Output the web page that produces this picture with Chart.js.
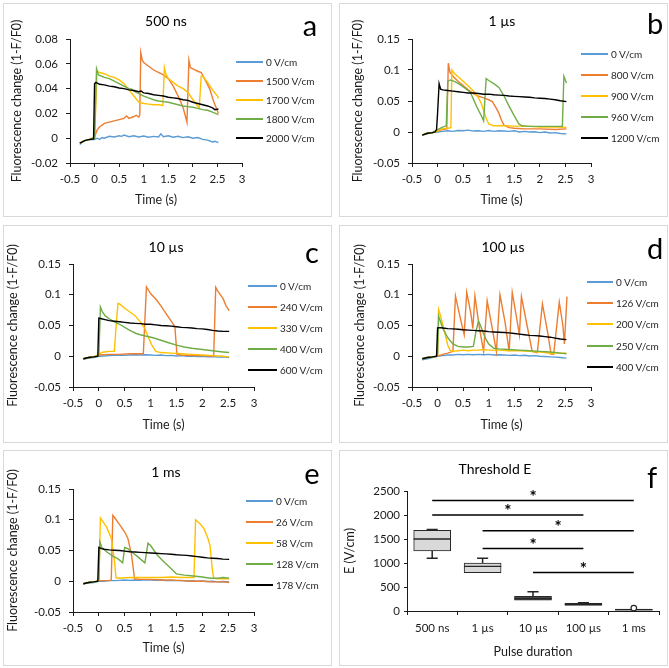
<!DOCTYPE html>
<html>
<head>
<meta charset="utf-8">
<script src="https://cdn.jsdelivr.net/npm/chart.js@4.4.1/dist/chart.umd.min.js"></script>
<style>
  body { margin: 0; background: #fff; font-family: Lato, sans-serif; }
  #fig { position: relative; width: 669px; height: 668px; overflow: hidden; }
  .panel { position: absolute; }
  .panel canvas { position: absolute; left: 0; top: 0; }
  .frame { position: absolute; left: 0; top: 0; right: 0; bottom: 0; border: 1px solid #d9d9d9; box-sizing: border-box; pointer-events: none; }
  .ttl { position: absolute; font-size: 14px; transform: translate(-50%, -50%); white-space: nowrap; color: #000; line-height: 1; }
  .let { position: absolute; font-size: 29px; transform: translate(-50%, -50%); color: #000; line-height: 1; }
  .lg-line { position: absolute; height: 2px; }
  .lg-txt { position: absolute; font-size: 10px; line-height: 1; transform: translateY(-50%); white-space: nowrap; color: #262626; }
</style>
</head>
<body>
<div id="fig"></div>
<script>
const COLORS = ['#5b9bd5', '#ed7d31', '#ffc000', '#70ad47', '#000000'];
const YTITLE = 'Fluorescence change (1-F/F0)';

// ---- a: 500 ns ----
const aLabels = ['0 V/cm', '1500 V/cm', '1700 V/cm', '1800 V/cm', '2000 V/cm'];
const a0 = [[-0.3,-0.005],[-0.25,-0.003],[-0.2,-0.002],[-0.1,-0.001],[-0.05,-0.001],[0,-0.001],[0.05,0.0],[0.1,-0.001],[0.15,0.0005],[0.2,0.0],[0.3,0.0015],[0.4,0.001],[0.5,0.002],[0.55,0.0015],[0.6,0.0025],[0.7,0.0012],[0.8,0.002],[0.9,0.001],[1.0,0.0018],[1.1,0.0008],[1.2,0.0015],[1.3,0.001],[1.35,0.0035],[1.4,0.0012],[1.5,0.002],[1.6,0.0008],[1.7,0.0015],[1.8,0.0005],[1.9,0.0012],[2.0,0.0],[2.1,0.0005],[2.2,-0.001],[2.3,-0.0015],[2.4,-0.003],[2.45,-0.0025],[2.52,-0.0035]];
const a1500 = [[-0.3,-0.004],[-0.2,-0.002],[-0.1,-0.001],[0.0,0.001],[0.05,0.0065],[0.1,0.009],[0.2,0.012],[0.3,0.013],[0.4,0.014],[0.5,0.015],[0.6,0.016],[0.65,0.018],[0.7,0.016],[0.8,0.0175],[0.85,0.0185],[0.9,0.017],[0.92,0.019],[0.94,0.069],[0.97,0.063],[1.0,0.061],[1.1,0.058],[1.2,0.055],[1.3,0.053],[1.4,0.051],[1.5,0.048],[1.6,0.042],[1.7,0.034],[1.8,0.025],[1.88,0.013],[1.92,0.063],[1.95,0.057],[2.0,0.056],[2.1,0.054],[2.17,0.053],[2.25,0.047],[2.34,0.040],[2.42,0.030],[2.52,0.020]];
const a1700 = [[-0.3,-0.004],[-0.2,-0.002],[-0.1,-0.001],[0.0,0.0],[0.05,0.054],[0.1,0.053],[0.2,0.052],[0.3,0.050],[0.4,0.049],[0.5,0.047],[0.6,0.044],[0.7,0.039],[0.8,0.034],[0.9,0.029],[1.0,0.028],[1.1,0.0275],[1.2,0.027],[1.3,0.027],[1.39,0.0265],[1.42,0.057],[1.45,0.052],[1.5,0.048],[1.6,0.045],[1.7,0.042],[1.8,0.040],[1.9,0.037],[2.0,0.031],[2.08,0.027],[2.13,0.0245],[2.17,0.050],[2.2,0.050],[2.3,0.045],[2.4,0.039],[2.5,0.034],[2.52,0.032]];
const a1800 = [[-0.3,-0.004],[-0.2,-0.002],[-0.1,-0.001],[0.0,0.0],[0.04,0.056],[0.08,0.051],[0.2,0.049],[0.3,0.048],[0.4,0.046],[0.5,0.044],[0.6,0.042],[0.7,0.040],[0.75,0.0395],[0.8,0.038],[0.9,0.036],[1.0,0.034],[1.1,0.0325],[1.2,0.031],[1.3,0.030],[1.4,0.0295],[1.5,0.029],[1.6,0.028],[1.7,0.027],[1.8,0.026],[1.9,0.0255],[2.0,0.025],[2.1,0.024],[2.2,0.023],[2.3,0.0225],[2.4,0.021],[2.52,0.019]];
const a2000 = [[-0.3,-0.004],[-0.2,-0.002],[-0.1,-0.001],[-0.02,-0.0005],[0.0,0.044],[0.03,0.045],[0.1,0.0435],[0.2,0.043],[0.3,0.042],[0.4,0.0415],[0.5,0.0405],[0.6,0.040],[0.7,0.039],[0.8,0.0385],[0.9,0.0375],[0.95,0.038],[1.0,0.0365],[1.1,0.036],[1.2,0.035],[1.3,0.0345],[1.4,0.034],[1.5,0.033],[1.6,0.0325],[1.7,0.032],[1.8,0.031],[1.9,0.0305],[2.0,0.029],[2.1,0.028],[2.2,0.027],[2.3,0.026],[2.4,0.0245],[2.45,0.023],[2.52,0.0235]];

// ---- b: 1 µs ----
const bLabels = ['0 V/cm', '800 V/cm', '900 V/cm', '960 V/cm', '1200 V/cm'];
const b0 = [[-0.3,-0.005],[-0.2,-0.003],[-0.1,-0.001],[0,0.0],[0.1,0.001],[0.2,0.002],[0.3,0.001],[0.4,0.0025],[0.5,0.002],[0.6,0.003],[0.7,0.0015],[0.8,0.002],[0.9,0.001],[1.0,0.0025],[1.1,0.001],[1.2,0.002],[1.3,0.0015],[1.4,0.001],[1.5,0.002],[1.6,0.0],[1.7,0.001],[1.8,0.0],[1.9,0.0005],[2.0,-0.001],[2.1,0.0],[2.2,-0.0015],[2.3,-0.001],[2.4,-0.0025],[2.52,-0.003]];
const b800 = [[-0.3,-0.005],[-0.2,-0.002],[-0.1,-0.001],[0.0,0.001],[0.05,0.003],[0.1,0.004],[0.18,0.005],[0.21,0.111],[0.24,0.097],[0.3,0.09],[0.4,0.082],[0.5,0.075],[0.6,0.068],[0.7,0.062],[0.8,0.058],[0.9,0.055],[1.0,0.052],[1.07,0.049],[1.15,0.038],[1.2,0.030],[1.25,0.019],[1.3,0.011],[1.4,0.007],[1.5,0.006],[1.7,0.005],[2.0,0.005],[2.3,0.004],[2.52,0.005]];
const b900 = [[-0.3,-0.005],[-0.2,-0.002],[-0.1,-0.001],[0.0,0.002],[0.1,0.005],[0.2,0.006],[0.26,0.007],[0.28,0.100],[0.32,0.095],[0.4,0.089],[0.5,0.082],[0.6,0.074],[0.7,0.066],[0.8,0.055],[0.85,0.047],[0.9,0.035],[0.95,0.022],[1.0,0.013],[1.1,0.010],[1.3,0.010],[1.5,0.0095],[1.8,0.009],[2.0,0.008],[2.3,0.008],[2.52,0.0075]];
const b960 = [[-0.3,-0.005],[-0.2,-0.002],[-0.1,-0.001],[0.0,0.004],[0.1,0.008],[0.17,0.010],[0.2,0.082],[0.25,0.084],[0.35,0.081],[0.45,0.076],[0.55,0.070],[0.64,0.064],[0.7,0.053],[0.77,0.040],[0.85,0.027],[0.9,0.018],[0.95,0.086],[1.0,0.083],[1.1,0.078],[1.2,0.072],[1.3,0.058],[1.39,0.043],[1.5,0.026],[1.59,0.013],[1.65,0.010],[1.8,0.009],[2.0,0.009],[2.2,0.009],[2.44,0.009],[2.47,0.090],[2.52,0.079]];
const b1200 = [[-0.3,-0.005],[-0.2,-0.002],[-0.1,-0.001],[-0.05,0.0],[-0.02,0.004],[0.0,0.030],[0.03,0.078],[0.06,0.069],[0.1,0.068],[0.2,0.067],[0.3,0.066],[0.4,0.065],[0.5,0.064],[0.6,0.063],[0.7,0.063],[0.8,0.062],[0.9,0.061],[1.0,0.061],[1.1,0.060],[1.2,0.0595],[1.3,0.059],[1.4,0.058],[1.5,0.0575],[1.6,0.057],[1.7,0.0565],[1.8,0.056],[1.9,0.055],[2.0,0.0545],[2.1,0.054],[2.2,0.053],[2.3,0.052],[2.4,0.0505],[2.52,0.049]];

// ---- c: 10 µs ----
const cLabels = ['0 V/cm', '240 V/cm', '330 V/cm', '400 V/cm', '600 V/cm'];
const c0 = [[-0.3,-0.005],[-0.2,-0.003],[-0.1,-0.002],[0,0.0],[0.1,0.0005],[0.2,0.001],[0.3,0.0015],[0.4,0.002],[0.5,0.0015],[0.6,0.002],[0.7,0.0025],[0.8,0.002],[0.9,0.0025],[1.0,0.002],[1.1,0.0015],[1.2,0.002],[1.3,0.001],[1.4,0.0015],[1.5,0.0005],[1.6,0.001],[1.7,0.0],[1.8,0.0005],[1.9,-0.0005],[2.0,0.0],[2.1,-0.001],[2.2,-0.0005],[2.3,-0.0015],[2.4,-0.001],[2.52,-0.002]];
const c240 = [[-0.3,-0.004],[-0.2,-0.002],[-0.1,-0.001],[0.0,0.002],[0.2,0.003],[0.4,0.003],[0.6,0.004],[0.8,0.004],[0.86,0.004],[0.92,0.113],[1.0,0.102],[1.1,0.093],[1.2,0.082],[1.31,0.068],[1.4,0.057],[1.47,0.048],[1.51,0.003],[1.6,0.002],[1.8,0.001],[2.0,0.001],[2.22,0.0],[2.26,0.112],[2.3,0.106],[2.4,0.094],[2.46,0.082],[2.52,0.074]];
const c330 = [[-0.3,-0.004],[-0.2,-0.002],[-0.1,-0.001],[0.0,0.003],[0.05,0.006],[0.1,0.007],[0.2,0.008],[0.3,0.008],[0.33,0.045],[0.37,0.086],[0.4,0.085],[0.5,0.078],[0.6,0.072],[0.7,0.066],[0.8,0.056],[0.89,0.045],[0.95,0.032],[1.02,0.019],[1.1,0.008],[1.2,0.006],[1.4,0.005],[1.6,0.004],[1.8,0.003],[2.0,0.002],[2.2,0.001],[2.4,0.0],[2.52,-0.001]];
const c400 = [[-0.3,-0.004],[-0.2,-0.002],[-0.1,-0.001],[0.0,0.0],[0.03,0.080],[0.07,0.072],[0.12,0.066],[0.2,0.061],[0.3,0.056],[0.4,0.052],[0.5,0.047],[0.6,0.042],[0.72,0.037],[0.8,0.035],[0.9,0.033],[1.05,0.030],[1.2,0.026],[1.35,0.022],[1.5,0.018],[1.65,0.015],[1.8,0.013],[2.0,0.011],[2.2,0.009],[2.4,0.007],[2.52,0.006]];
const c600 = [[-0.3,-0.004],[-0.2,-0.002],[-0.1,-0.001],[-0.02,0.0],[0.0,0.062],[0.05,0.061],[0.1,0.060],[0.2,0.058],[0.3,0.057],[0.4,0.056],[0.5,0.055],[0.6,0.054],[0.7,0.0535],[0.8,0.053],[0.9,0.052],[1.0,0.052],[1.1,0.051],[1.2,0.050],[1.3,0.0495],[1.4,0.049],[1.5,0.048],[1.6,0.047],[1.7,0.0465],[1.8,0.046],[1.9,0.045],[2.0,0.0445],[2.1,0.0435],[2.2,0.042],[2.3,0.041],[2.4,0.0405],[2.52,0.0405]];

// ---- d: 100 µs ----
const dLabels = ['0 V/cm', '126 V/cm', '200 V/cm', '250 V/cm', '400 V/cm'];
const d0 = [[-0.3,-0.006],[-0.2,-0.004],[-0.1,-0.002],[0,0.0],[0.1,0.001],[0.2,0.002],[0.3,0.002],[0.4,0.003],[0.5,0.0025],[0.6,0.003],[0.7,0.0025],[0.8,0.003],[0.9,0.0025],[1.0,0.003],[1.1,0.002],[1.2,0.0025],[1.3,0.002],[1.4,0.0015],[1.5,0.002],[1.6,0.001],[1.7,0.0015],[1.8,0.0005],[1.9,0.001],[2.0,0.0],[2.1,-0.0005],[2.2,-0.001],[2.3,-0.0015],[2.4,-0.002],[2.52,-0.003]];
const d126 = [[-0.3,-0.004],[-0.2,-0.002],[-0.1,-0.001],[0.0,0.0],[0.1,0.003],[0.2,0.005],[0.3,0.008],[0.35,0.098],[0.45,0.060],[0.52,0.035],[0.57,0.104],[0.65,0.070],[0.69,0.045],[0.73,0.098],[0.82,0.045],[0.9,0.008],[0.97,0.090],[1.07,0.045],[1.15,0.008],[1.22,0.100],[1.32,0.055],[1.4,0.008],[1.46,0.104],[1.55,0.060],[1.6,0.035],[1.64,0.097],[1.75,0.050],[1.85,0.008],[1.95,0.006],[2.05,0.085],[2.15,0.040],[2.22,0.003],[2.27,0.003],[2.38,0.088],[2.45,0.050],[2.48,0.020],[2.53,0.097]];
const d200 = [[-0.3,-0.004],[-0.2,-0.002],[-0.1,-0.001],[0.0,0.0],[0.02,0.076],[0.05,0.068],[0.1,0.052],[0.15,0.035],[0.2,0.018],[0.25,0.009],[0.3,0.008],[0.4,0.009],[0.5,0.010],[0.6,0.009],[0.7,0.010],[0.8,0.010],[0.9,0.011],[1.0,0.010],[1.2,0.010],[1.4,0.009],[1.6,0.009],[1.8,0.008],[2.0,0.007],[2.1,0.006],[2.25,0.004],[2.3,0.006],[2.4,0.005],[2.52,0.005]];
const d250 = [[-0.3,-0.004],[-0.2,-0.002],[-0.1,-0.001],[0.0,0.0],[0.02,0.065],[0.05,0.058],[0.1,0.046],[0.2,0.030],[0.3,0.020],[0.4,0.016],[0.5,0.015],[0.6,0.015],[0.7,0.016],[0.75,0.040],[0.8,0.057],[0.85,0.048],[0.9,0.036],[0.95,0.027],[1.0,0.020],[1.1,0.013],[1.2,0.012],[1.4,0.011],[1.6,0.010],[1.8,0.009],[2.0,0.008],[2.2,0.007],[2.4,0.005],[2.52,0.004]];
const d400 = [[-0.3,-0.004],[-0.2,-0.002],[-0.1,-0.001],[-0.02,0.0],[0.0,0.046],[0.05,0.0465],[0.1,0.046],[0.2,0.045],[0.3,0.0445],[0.4,0.044],[0.5,0.043],[0.6,0.0425],[0.7,0.042],[0.8,0.0415],[0.9,0.041],[1.0,0.040],[1.1,0.0395],[1.2,0.039],[1.3,0.0385],[1.4,0.038],[1.5,0.037],[1.6,0.036],[1.7,0.035],[1.8,0.034],[1.9,0.0335],[2.0,0.033],[2.1,0.032],[2.2,0.031],[2.3,0.0295],[2.4,0.028],[2.52,0.027]];

// ---- e: 1 ms ----
const eLabels = ['0 V/cm', '26 V/cm', '58 V/cm', '128 V/cm', '178 V/cm'];
const e0 = [[-0.3,-0.004],[-0.2,-0.003],[-0.1,-0.002],[0,0.0],[0.1,0.0],[0.2,0.001],[0.3,0.001],[0.4,0.0015],[0.5,0.002],[0.6,0.0015],[0.7,0.002],[0.8,0.0015],[0.9,0.0025],[1.0,0.002],[1.1,0.0015],[1.2,0.002],[1.3,0.001],[1.4,0.0015],[1.5,0.001],[1.6,0.0015],[1.7,0.0005],[1.8,0.001],[1.9,0.0],[2.0,0.0005],[2.1,-0.0005],[2.2,0.0],[2.3,-0.001],[2.4,-0.0005],[2.52,-0.001]];
const e26 = [[-0.3,-0.004],[-0.2,-0.002],[-0.1,-0.001],[0.0,0.001],[0.1,0.001],[0.2,0.001],[0.24,0.002],[0.27,0.107],[0.3,0.104],[0.4,0.092],[0.5,0.080],[0.56,0.070],[0.63,0.044],[0.69,0.004],[0.8,0.003],[1.0,0.003],[1.2,0.002],[1.4,0.002],[1.6,0.001],[1.8,0.0],[2.0,0.0],[2.2,-0.001],[2.4,-0.001],[2.52,-0.002]];
const e58 = [[-0.3,-0.004],[-0.2,-0.002],[-0.1,-0.001],[0.0,0.0],[0.03,0.103],[0.1,0.094],[0.15,0.088],[0.24,0.070],[0.3,0.035],[0.33,0.006],[0.4,0.005],[0.6,0.006],[0.8,0.006],[1.0,0.006],[1.2,0.006],[1.4,0.007],[1.6,0.006],[1.8,0.006],[1.84,0.006],[1.87,0.100],[1.95,0.094],[2.03,0.086],[2.1,0.072],[2.15,0.058],[2.19,0.022],[2.22,0.005],[2.3,0.004],[2.52,0.004]];
const e128 = [[-0.3,-0.004],[-0.2,-0.002],[-0.1,-0.001],[0.0,0.0],[0.02,0.064],[0.06,0.055],[0.15,0.048],[0.27,0.041],[0.38,0.036],[0.46,0.030],[0.5,0.055],[0.56,0.053],[0.66,0.046],[0.75,0.040],[0.89,0.030],[0.95,0.062],[1.0,0.058],[1.12,0.0435],[1.25,0.032],[1.38,0.022],[1.5,0.012],[1.65,0.010],[1.83,0.0086],[2.0,0.007],[2.16,0.005],[2.3,0.005],[2.4,0.006],[2.52,0.005]];
const e178 = [[-0.3,-0.004],[-0.2,-0.002],[-0.1,-0.001],[-0.02,0.0],[0.0,0.055],[0.05,0.053],[0.1,0.052],[0.2,0.051],[0.3,0.0505],[0.4,0.050],[0.5,0.049],[0.6,0.048],[0.7,0.0475],[0.8,0.047],[0.9,0.0465],[1.0,0.046],[1.1,0.0455],[1.2,0.045],[1.3,0.0445],[1.4,0.044],[1.5,0.043],[1.6,0.0425],[1.7,0.042],[1.8,0.041],[1.9,0.040],[2.0,0.039],[2.1,0.038],[2.2,0.0375],[2.3,0.037],[2.4,0.036],[2.52,0.0355]];

// ---- f: threshold E box plot ----
const fCats = ['500 ns', '1 µs', '10 µs', '100 µs', '1 ms'];
const fMin = [1100, 800, 225, 118, 18];
const fQ1 = [1250, 800, 225, 118, 18];
const fMedian = [1500, 930, 260, 140, 30];
const fQ3 = [1680, 1000, 305, 160, 42];
const fMax = [1700, 1100, 400, 174, 42];
const fOutliers = [[4, 60]];
// [from category, to category, height]
const fSig = [[0, 4, 2300], [0, 3, 2000], [1, 4, 1670], [1, 3, 1300], [2, 4, 800]];
const fBoxFill = ['#d9d9d9', '#d9d9d9', '#595959', '#595959', '#262626'];

const fig = document.getElementById('fig');

function makePanel(p) {
  const el = document.createElement('div');
  el.className = 'panel';
  el.style.cssText = `left:${p.left}px;top:${p.top}px;width:${p.w}px;height:${p.h}px`;
  const cv = document.createElement('canvas');
  cv.width = p.w; cv.height = p.h;
  el.appendChild(cv);
  const fr = document.createElement('div'); fr.className = 'frame'; el.appendChild(fr);
  const t = document.createElement('div'); t.className = 'ttl'; t.textContent = p.title;
  t.style.left = p.titlePos[0] + 'px'; t.style.top = p.titlePos[1] + 'px'; el.appendChild(t);
  const l = document.createElement('div'); l.className = 'let'; l.textContent = p.letter;
  l.style.left = p.letterPos[0] + 'px'; l.style.top = p.letterPos[1] + 'px'; el.appendChild(l);
  fig.appendChild(el);
  return {el, cv};
}

function addLegend(el, labels, lg) {
  labels.forEach((lab, i) => {
    const y = lg.y0 + i * lg.dy;
    const ln = document.createElement('div');
    ln.className = 'lg-line';
    ln.style.cssText += `left:${lg.x0}px;top:${y - 1}px;width:${lg.x1 - lg.x0}px;background:${COLORS[i]}`;
    el.appendChild(ln);
    const tx = document.createElement('div');
    tx.className = 'lg-txt';
    tx.textContent = lab;
    tx.style.left = lg.tx + 'px'; tx.style.top = y + 'px';
    el.appendChild(tx);
  });
}

const fmt = v => String(parseFloat(Number(v).toFixed(3)));
const axisColor = '#1a1a1a';
const tickFont = {family: 'Lato', size: 11.5};
const titleFont = {family: 'Lato', size: 12.5};

function traceChart(p, series, labels, yMin, yMax, yStep) {
  const {el, cv} = makePanel(p);
  addLegend(el, labels, p.legend);
  const A = p.area;
  new Chart(cv, {
    type: 'line',
    data: {
      datasets: series.map((s, i) => ({
        label: labels[i],
        data: s.map(q => ({x: q[0], y: q[1]})),
        borderColor: COLORS[i],
        borderWidth: 1.4,
        pointRadius: 0,
        tension: 0,
        fill: false,
        order: series.length - i
      }))
    },
    options: {
      responsive: false, animation: false, devicePixelRatio: 1,
      layout: {padding: {left: 0, top: A.t, right: p.w - A.r, bottom: 0}},
      plugins: {legend: {display: false}, tooltip: {enabled: false}},
      scales: {
        x: {
          type: 'linear', min: -0.5, max: 3,
          afterFit: s => { s.height = p.h - A.b; },
          ticks: {stepSize: 0.5, callback: fmt, font: tickFont, color: axisColor, padding: 5, maxRotation: 0, autoSkip: false},
          grid: {drawOnChartArea: false, tickLength: 4, tickColor: axisColor},
          border: {color: axisColor, width: 1},
          title: {display: true, text: 'Time (s)', font: titleFont, color: axisColor, padding: {top: 0, bottom: p.h - p.xTitleY - 7.5}}
        },
        y: {
          min: yMin, max: yMax,
          afterFit: s => { s.width = A.l; },
          ticks: {stepSize: yStep, callback: fmt, font: tickFont, color: axisColor, padding: 8},
          grid: {drawOnChartArea: false, tickLength: 4, tickColor: axisColor},
          border: {color: axisColor, width: 1},
          title: {display: true, text: YTITLE, font: titleFont, color: axisColor, padding: {top: p.yTitleX - 7.5, bottom: 0}}
        }
      }
    }
  });
}

traceChart({left: 3, top: 3, w: 329, h: 214, title: '500 ns', titlePos: [163, 18], letter: 'a', letterPos: [307, 21],
  area: {l: 67, t: 36, r: 239, b: 160}, xTitleY: 197, yTitleX: 14,
  legend: {x0: 233, x1: 260, tx: 263, y0: 59, dy: 19}},
  [a0, a1500, a1700, a1800, a2000], aLabels, -0.02, 0.08, 0.02);

traceChart({left: 339, top: 3, w: 329, h: 214, title: '1 µs', titlePos: [163, 18], letter: 'b', letterPos: [316, 19],
  area: {l: 73, t: 36, r: 252, b: 160}, xTitleY: 197, yTitleX: 19,
  legend: {x0: 242, x1: 269, tx: 272, y0: 51, dy: 21}},
  [b0, b800, b900, b960, b1200], bLabels, -0.05, 0.15, 0.05);

traceChart({left: 3, top: 225, w: 329, h: 218, title: '10 µs', titlePos: [163, 22], letter: 'c', letterPos: [309, 26],
  area: {l: 70, t: 39, r: 251, b: 162}, xTitleY: 200, yTitleX: 10,
  legend: {x0: 245, x1: 274, tx: 277, y0: 61, dy: 21}},
  [c0, c240, c330, c400, c600], cLabels, -0.05, 0.15, 0.05);

traceChart({left: 339, top: 225, w: 329, h: 218, title: '100 µs', titlePos: [164, 22], letter: 'd', letterPos: [316, 22],
  area: {l: 73, t: 39, r: 252, b: 162}, xTitleY: 200, yTitleX: 21,
  legend: {x0: 248, x1: 274, tx: 277, y0: 57, dy: 21.2}},
  [d0, d126, d200, d250, d400], dLabels, -0.05, 0.15, 0.05);

traceChart({left: 3, top: 450, w: 329, h: 216, title: '1 ms', titlePos: [163, 22], letter: 'e', letterPos: [309, 22],
  area: {l: 70, t: 39, r: 251, b: 162}, xTitleY: 198, yTitleX: 10,
  legend: {x0: 243, x1: 270, tx: 273, y0: 51, dy: 21}},
  [e0, e26, e58, e128, e178], eLabels, -0.05, 0.15, 0.05);

// ---- box plot panel ----
(function () {
  const p = {left: 339, top: 450, w: 329, h: 216, title: 'Threshold E', titlePos: [156, 19], letter: 'f', letterPos: [313, 26],
    area: {l: 68, t: 41, r: 320, b: 161}, xTitleY: 202, yTitleX: 11};
  const {cv} = makePanel(p);
  const A = p.area;
  const half = 0.37, cap = 0.11;

  const whisk = [];
  fCats.forEach((c, i) => {
    if (fMin[i] < fQ1[i]) {
      whisk.push({x: i, y: fMin[i]}, {x: i, y: fQ1[i]}, {x: i, y: null});
      whisk.push({x: i - cap, y: fMin[i]}, {x: i + cap, y: fMin[i]}, {x: i, y: null});
    }
    if (fMax[i] > fQ3[i]) {
      whisk.push({x: i, y: fQ3[i]}, {x: i, y: fMax[i]}, {x: i, y: null});
      whisk.push({x: i - cap, y: fMax[i]}, {x: i + cap, y: fMax[i]}, {x: i, y: null});
    }
  });
  const med = [];
  fCats.forEach((c, i) => { med.push({x: i - half, y: fMedian[i]}, {x: i + half, y: fMedian[i]}, {x: i, y: null}); });
  const sig = [];
  fSig.forEach(s => { sig.push({x: s[0], y: s[2]}, {x: s[1], y: s[2]}, {x: s[1], y: null}); });

  const stars = {
    id: 'stars',
    afterDatasetsDraw(chart) {
      const {ctx, scales: {x, y}} = chart;
      ctx.save();
      ctx.fillStyle = '#000';
      ctx.font = 'bold 17px Lato';
      ctx.textAlign = 'center';
      ctx.textBaseline = 'middle';
      fSig.forEach(s => {
        ctx.fillText('*', x.getPixelForValue((s[0] + s[1]) / 2), y.getPixelForValue(s[2]) - 3);
      });
      ctx.restore();
    }
  };

  new Chart(cv, {
    type: 'bar',
    data: {
      datasets: [
        {type: 'line', data: med, borderColor: '#262626', borderWidth: 1.3, pointRadius: 0, spanGaps: false, order: 1},
        {type: 'line', data: whisk, borderColor: '#262626', borderWidth: 1.5, pointRadius: 0, spanGaps: false, order: 2},
        {type: 'line', data: sig, borderColor: '#000', borderWidth: 1.5, pointRadius: 0, spanGaps: false, order: 2},
        {type: 'scatter', data: fOutliers.map(o => ({x: o[0], y: o[1]})), pointRadius: 2.8, pointBackgroundColor: '#fff',
          pointBorderColor: '#262626', pointBorderWidth: 1.2, order: 0},
        {type: 'bar', data: fCats.map((c, i) => ({x: i, y: [fQ1[i], fQ3[i]]})), backgroundColor: fBoxFill,
          borderColor: '#262626', borderWidth: 1, borderSkipped: false, barThickness: 37, grouped: false, order: 3}
      ]
    },
    options: {
      responsive: false, animation: false, devicePixelRatio: 1,
      layout: {padding: {left: 0, top: A.t, right: p.w - A.r, bottom: 0}},
      plugins: {legend: {display: false}, tooltip: {enabled: false}},
      scales: {
        x: {
          type: 'linear', min: -0.5, max: 4.5, offset: false,
          afterFit: s => { s.height = p.h - A.b; },
          ticks: {stepSize: 0.5, autoSkip: false, maxRotation: 0, font: tickFont, color: axisColor, padding: 6,
            callback: v => Number.isInteger(v) ? fCats[v] : ''},
          grid: {drawOnChartArea: false, offset: false, tickLength: 4,
            tickColor: ctx => (ctx.tick && Number.isInteger(ctx.tick.value)) ? 'rgba(0,0,0,0)' : axisColor},
          border: {color: axisColor, width: 1},
          title: {display: true, text: 'Pulse duration', font: titleFont, color: axisColor, padding: {top: 0, bottom: p.h - p.xTitleY - 7.5}}
        },
        y: {
          min: 0, max: 2500,
          afterFit: s => { s.width = A.l; },
          ticks: {stepSize: 500, font: tickFont, color: axisColor, padding: 4, callback: v => String(v)},
          grid: {drawOnChartArea: false, tickLength: 3, tickColor: axisColor},
          border: {color: axisColor, width: 1},
          title: {display: true, text: 'E (V/cm)', font: titleFont, color: axisColor, padding: {top: p.yTitleX - 7.5, bottom: 0}}
        }
      }
    },
    plugins: [stars]
  });
})();
</script>
</body>
</html>
